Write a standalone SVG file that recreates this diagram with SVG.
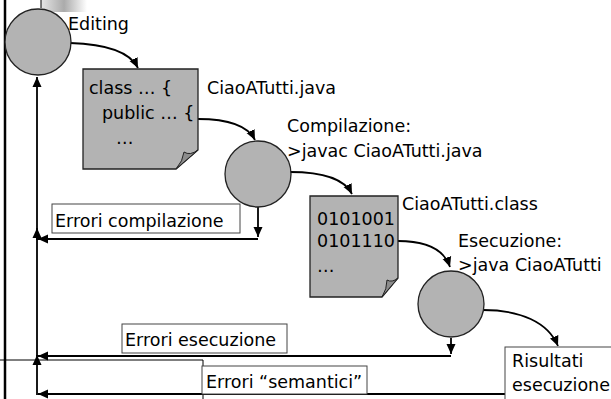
<svg xmlns="http://www.w3.org/2000/svg" width="611" height="399" viewBox="0 0 611 399">
<defs>
<linearGradient id="g" x1="0" y1="0" x2="1" y2="0">
<stop offset="0" stop-color="#e6e6e6"/>
<stop offset="0.5" stop-color="#ababab"/>
<stop offset="1" stop-color="#ffffff"/>
</linearGradient>
<marker id="ah" markerUnits="userSpaceOnUse" markerWidth="11" markerHeight="10" refX="10" refY="5" orient="auto">
<path d="M0,0.5 L10,5 L0,9.5 Z" fill="#000"/>
</marker>
<style>
text{font-family:"DejaVu Sans","Liberation Sans",sans-serif;font-size:17.5px;fill:#000}
.node{fill:#b3b3b3;stroke:#222;stroke-width:1.3}
.fold{fill:#8c8c8c;stroke:#222;stroke-width:1}
.lbl{fill:#fff;stroke:#444;stroke-width:1}
.c{fill:none;stroke:#000;stroke-width:1.8;marker-end:url(#ah)}
.frame{fill:none;stroke:#000;stroke-width:1}
</style>
</defs>
<rect width="611" height="399" fill="#fff"/>
<g id="frame">
<rect x="41" y="0" width="46" height="12" fill="url(#g)"/>
<path class="frame" d="M41,0 V8"/>
<path d="M5,0 V399" stroke="#000" stroke-width="2.5" fill="none"/>
<path class="frame" d="M0,360 H203 V399"/>
</g>
<g id="connectors">
<path class="c" d="M70,43 C105,44 130,52 138,68"/>
<path class="c" d="M198,119 C230,119 248,126 255,140"/>
<path class="c" d="M290,172 C325,172 345,180 352,194"/>
<path class="c" d="M398,241 C430,241 445,252 450,267"/>
<path class="c" d="M483,310 C520,310 548,322 558,346"/>
<path class="c" d="M258,207 V237"/>
<path class="c" d="M258,239 H38"/>
<path class="c" d="M451,338 V354"/>
<path class="c" d="M451,356 H38"/>
<path class="c" d="M505,394 H38"/>
<path class="c" d="M37,395 V355"/>
<path class="c" d="M37,356 V228"/>
<path class="c" d="M37,240 V77"/>
</g>
<g id="editing">
<circle class="node" cx="38" cy="42" r="33"/>
<text x="68" y="30">Editing</text>
</g>
<g id="source">
<path class="node" d="M83,69 H198 V150 L176,169 H83 Z"/>
<path class="fold" d="M176,169 L198,150 Q190,156 184,152 Q183,161 176,169 Z"/>
<text x="89" y="94">class … {</text>
<text x="102" y="119">public … {</text>
<text x="116" y="144">…</text>
<text x="207" y="94">CiaoATutti.java</text>
</g>
<g id="compile">
<circle class="node" cx="258" cy="174" r="33"/>
<text x="287" y="132">Compilazione:</text>
<text x="287" y="157">&gt;javac CiaoATutti.java</text>
</g>
<g id="bytecode">
<path class="node" d="M310,196 H398 V278 L382,297 H310 Z"/>
<path class="fold" d="M382,297 L398,278 Q392,283 387,280 Q387,289 382,297 Z"/>
<text x="317" y="225">0101001</text>
<text x="317" y="247">0101110</text>
<text x="317" y="272">…</text>
<text x="402" y="210">CiaoATutti.class</text>
</g>
<g id="execute">
<circle class="node" cx="451" cy="304" r="33"/>
<text x="458" y="247">Esecuzione:</text>
<text x="458" y="271">&gt;java CiaoATutti</text>
</g>
<g id="err-comp">
<rect class="lbl" x="52" y="204" width="188" height="29"/>
<text x="55" y="227">Errori compilazione</text>
</g>
<g id="err-exec">
<rect class="lbl" x="122" y="324" width="165" height="29"/>
<text x="125" y="346">Errori esecuzione</text>
</g>
<g id="err-sem">
<rect class="lbl" x="202" y="366" width="165" height="28"/>
<text x="206" y="388">Errori “semantici”</text>
</g>
<g id="results">
<rect class="lbl" x="505" y="347" width="130" height="70"/>
<text x="512" y="367">Risultati</text>
<text x="512" y="391">esecuzione</text>
</g>
</svg>
